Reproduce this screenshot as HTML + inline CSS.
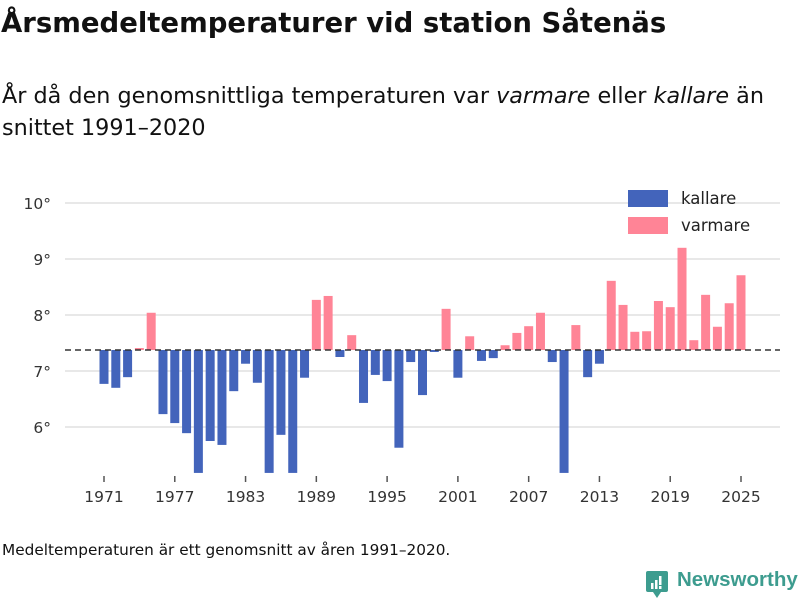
<!DOCTYPE html>
<html><head><meta charset="utf-8">
<style>
body{margin:0;background:#fff;font-family:"DejaVu Sans",sans-serif;}
#wrap{position:relative;width:800px;height:600px;overflow:hidden;}
.t{position:absolute;white-space:nowrap;color:#111;}
</style></head><body>
<div id="wrap">
<div class="t" style="left:1px;top:7px;font-size:27.5px;font-weight:bold;font-family:'DejaVu Sans',sans-serif;">Årsmedeltemperaturer vid station Såtenäs</div>
<div class="t" style="left:2px;top:80px;font-size:22.3px;line-height:32px;font-family:'DejaVu Sans',sans-serif;">År då den genomsnittliga temperaturen var <i>varmare</i> eller <i>kallare</i> än<br>snittet 1991–2020</div>
<svg id="chart" width="800" height="600" style="position:absolute;left:0;top:0"></svg>
<div class="t" style="left:2px;top:541px;font-size:15.3px;font-family:'DejaVu Sans',sans-serif;">Medeltemperaturen är ett genomsnitt av åren 1991–2020.</div>
<div style="position:absolute;left:645px;top:569px;">
<svg width="24" height="30" style="position:absolute;left:0;top:0"><rect x="1" y="2" width="22" height="21" rx="2" fill="#3d9c8f"/><polygon points="8,23 16,23 12,29" fill="#3d9c8f"/><rect x="6" y="14" width="2.5" height="6" fill="#fff"/><rect x="10" y="11" width="2.5" height="9" fill="#fff"/><rect x="14" y="7" width="2.5" height="9" fill="#fff"/><rect x="14" y="17" width="2.5" height="3" fill="#fff"/></svg>
<div class="t" style="left:32px;top:-1px;font-size:20.5px;color:#3d9c8f;font-weight:bold;font-family:'Liberation Sans',sans-serif;">Newsworthy</div>
</div>
</div>
<script>
const years=[1971,1972,1973,1974,1975,1976,1977,1978,1979,1980,1981,1982,1983,1984,1985,1986,1987,1988,1989,1990,1991,1992,1993,1994,1995,1996,1997,1998,1999,2000,2001,2002,2003,2004,2005,2006,2007,2008,2009,2010,2011,2012,2013,2014,2015,2016,2017,2018,2019,2020,2021,2022,2023,2024,2025];
const temps=[6.77,6.70,6.89,7.41,8.04,6.23,6.07,5.89,5.18,5.75,5.68,6.64,7.13,6.79,5.18,5.86,5.18,6.88,8.27,8.34,7.25,7.64,6.43,6.93,6.82,5.63,7.16,6.57,7.34,8.11,6.88,7.62,7.18,7.23,7.46,7.68,7.80,8.04,7.16,5.18,7.82,6.89,7.13,8.61,8.18,7.70,7.71,8.25,8.14,9.20,7.55,8.36,7.79,8.21,8.71];
const baseline=7.375;
const yTicks=[6,7,8,9,10];
const xTicks=[1971,1977,1983,1989,1995,2001,2007,2013,2019,2025];
const NS="http://www.w3.org/2000/svg";
const svg=document.getElementById('chart');
const y=v=>371-(v-7)*56;
const x=yr=>104+(yr-1971)*(741-104)/54;
const yBottom=473;
const FF='DejaVu Sans, sans-serif';
function el(t,a){const e=document.createElementNS(NS,t);for(const k in a)e.setAttribute(k,a[k]);svg.appendChild(e);return e;}
yTicks.forEach(v=>{
 const g=el('line',{x1:65,x2:780,y1:y(v),y2:y(v),stroke:'#e0e0e0','stroke-width':1.5});
 
 
 const t=el('text',{x:51,y:y(v)+6,'text-anchor':'end','font-size':15.5,fill:'#333','font-family':FF});
 t.textContent=v+'°';
 
 
});
years.forEach((yr,i)=>{
 const v=temps[i];
 const top=Math.min(y(v),y(baseline)),bot=Math.min(Math.max(y(v),y(baseline)),yBottom);
 const r=el('rect',{x:x(yr)-4.5,y:top,width:9,height:Math.max(bot-top,1),fill:v>=baseline?'#ff8496':'#4364bb'});
 
 
});
const b=el('line',{x1:65,x2:780,y1:y(baseline),y2:y(baseline),stroke:'#333','stroke-width':1.5,'stroke-dasharray':'6,4'});


xTicks.forEach(yr=>{
 const l=el('line',{x1:x(yr),x2:x(yr),y1:476,y2:482,stroke:'#555','stroke-width':1.5});
 
 
 const t=el('text',{x:x(yr),y:502,'text-anchor':'middle','font-size':15.5,fill:'#333','font-family':FF});
 t.textContent=yr;
 
 
});
[['kallare','#4364bb',190],['varmare','#ff8496',217]].forEach(([n,c,yy])=>{
 const r=el('rect',{x:628,y:yy,width:40,height:17,fill:c});
 
 
 const t=el('text',{x:681,y:yy+14,'font-size':16.5,fill:'#222','font-family':FF});
 t.textContent=n;
 
 
});
</script>
</body></html>
